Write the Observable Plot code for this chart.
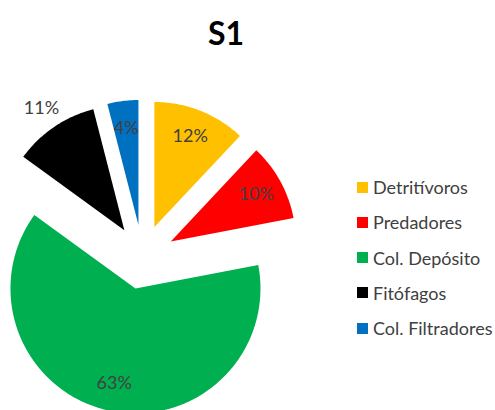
<!DOCTYPE html>
<html><head><meta charset="utf-8">
<script src="https://cdn.jsdelivr.net/npm/d3@7"></script>
<script src="https://cdn.jsdelivr.net/npm/@observablehq/plot@0.6"></script>
<style>
body{margin:0;background:#fff;}
#wrap{position:relative;width:495px;height:410px;overflow:hidden;font-family:Lato,"Open Sans",sans-serif;}
#title{position:absolute;left:0;top:0;width:452px;height:60px;line-height:66px;text-align:center;font-weight:bold;font-size:32px;color:#000;}
#chart{position:absolute;left:0;top:60px;}
#legend{position:absolute;left:357px;top:169.5px;}
.row{display:flex;align-items:center;height:35.25px;font-size:18px;color:#404040;white-space:nowrap;}
.sw{width:11px;height:11px;margin-right:5px;flex:none;}
</style>
</head><body>
<div id="wrap">
  <div id="title"></div>
  <div id="chart"></div>
  <div id="legend"></div>
</div>
<script>
const title = "S1";
const categories = ["Detritívoros", "Predadores", "Col. Depósito", "Fitófagos", "Col. Filtradores"];
const values = [12, 10, 63, 11, 4];
const pctLabels = ["12%", "10%", "63%", "11%", "4%"];
const colors = ["#FFC000", "#FF0000", "#00B050", "#000000", "#0070C0"];

// layout (pie units: radius = 1)
const explode = 0.258;
const outsideLabels = new Set(["Fitófagos"]);
const arcs = d3.pie().sort(null).value(d => d)(values);
const pts = [];
const lbl = [];
arcs.forEach((a, i) => {
  const cat = categories[i];
  const mid = (a.startAngle + a.endAngle) / 2;
  const ox = explode * Math.sin(mid), oy = explode * Math.cos(mid);
  pts.push({cat, x: ox, y: oy});
  const n = Math.max(2, Math.ceil((a.endAngle - a.startAngle) / (Math.PI / 180)));
  for (let k = 0; k <= n; k++) {
    const t = a.startAngle + (a.endAngle - a.startAngle) * k / n;
    pts.push({cat, x: ox + Math.sin(t), y: oy + Math.cos(t)});
  }
  pts.push({cat, x: ox, y: oy});
  const lr = outsideLabels.has(cat) ? 1.18 : 0.78;
  lbl.push({text: pctLabels[i], x: ox + lr * Math.sin(mid), y: oy + lr * Math.cos(mid)});
});

const chart = Plot.plot({
  width: 495, height: 350, margin: 0,
  style: {background: "transparent", overflow: "hidden"},
  x: {domain: [-1.136, 2.824], axis: null},
  y: {domain: [-1.228, 1.572], axis: null},
  color: {domain: categories, range: colors},
  marks: [
    Plot.line(pts, {x: "x", y: "y", z: "cat", fill: "cat", stroke: "none", clip: true}),
    Plot.text(lbl, {x: "x", y: "y", text: "text", fontSize: 18, fill: "#404040", fontFamily: "Lato, 'Open Sans', sans-serif"})
  ]
});
document.getElementById("chart").appendChild(chart);
document.getElementById("title").textContent = title;
const leg = document.getElementById("legend");
categories.forEach((c, i) => {
  const row = document.createElement("div");
  row.className = "row";
  const sw = document.createElement("span");
  sw.className = "sw";
  sw.style.background = colors[i];
  const tx = document.createElement("span");
  tx.textContent = c;
  row.appendChild(sw); row.appendChild(tx);
  leg.appendChild(row);
});
</script>
</body></html>
